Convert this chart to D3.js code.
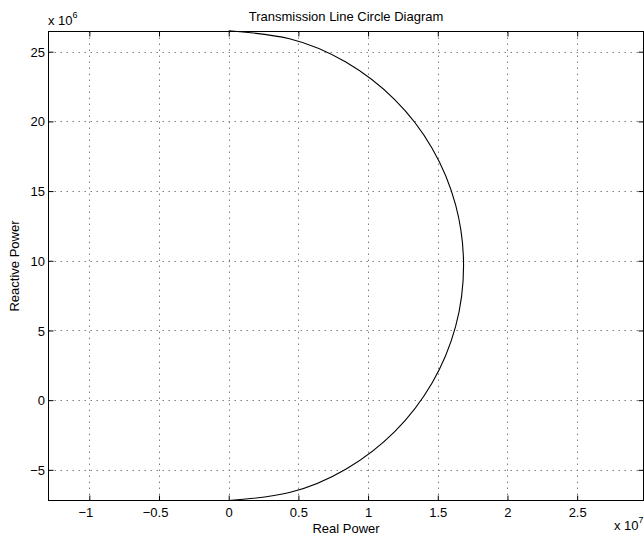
<!DOCTYPE html>
<html>
<head>
<meta charset="utf-8">
<script src="https://cdn.jsdelivr.net/npm/d3@7"></script>
<style>
  body { margin: 0; background: #fff; }
  svg { display: block; }
  text { font-family: "Liberation Sans", Arial, Helvetica, sans-serif; fill: #000; }
</style>
</head>
<body>
<div id="chart"></div>
<script>
// tick labels (x in units of 1e7, y in units of 1e6)
let xTicks = [-1, -0.5, 0, 0.5, 1, 1.5, 2, 2.5];
let yTicks = [-5, 0, 5, 10, 15, 20, 25];

// circle diagram points (W, var)
let realPower = [0, 4.36e6, 8.43e6, 11.91e6, 14.59e6, 16.28e6, 16.85e6,
                 16.28e6, 14.59e6, 11.91e6, 8.43e6, 4.36e6, 0];
let reactivePower = [-7.2e6, -6.63e6, -4.94e6, -2.26e6, 1.23e6, 5.29e6, 9.65e6,
                     14.01e6, 18.08e6, 21.56e6, 24.24e6, 25.93e6, 26.5e6];

let width = 644;
let height = 541;
let axLeft = 48.5, axRight = 643.5, axTop = 31.5, axBottom = 500.5;

let x = d3.scaleLinear().domain([-1.293e7, 2.976e7]).range([axLeft, axRight]);
let y = d3.scaleLinear().domain([-7.2e6, 26.45e6]).range([axBottom, axTop]);

let svg = d3.select("#chart")
    .append("svg")
    .attr("width", width)
    .attr("height", height);

let fmt = (v) => String(v).replace("-", "\u2212");

// dotted grid
let grid = svg.append("g")
    .attr("stroke", "#808080")
    .attr("stroke-width", 1)
    .attr("stroke-dasharray", "1.5,4.5");

grid.selectAll(".vg")
    .data(xTicks)
    .enter().append("line")
    .attr("x1", (d) => Math.round(x(d * 1e7)) + 0.5)
    .attr("x2", (d) => Math.round(x(d * 1e7)) + 0.5)
    .attr("y1", axTop)
    .attr("y2", axBottom);

grid.selectAll(".hg")
    .data(yTicks)
    .enter().append("line")
    .attr("y1", (d) => Math.round(y(d * 1e6)) + 0.5)
    .attr("y2", (d) => Math.round(y(d * 1e6)) + 0.5)
    .attr("x1", axLeft)
    .attr("x2", axRight);

// the curve
let pts = realPower.map((p, i) => [p, reactivePower[i]]);
let line = d3.line()
    .x((d) => x(d[0]))
    .y((d) => y(d[1]))
    .curve(d3.curveNatural);

svg.append("path")
    .datum(pts)
    .attr("d", line)
    .attr("fill", "none")
    .attr("stroke", "#000")
    .attr("stroke-width", 1.1);

// axes with inward ticks
let xVals = xTicks.map((d) => d * 1e7);
let yVals = yTicks.map((d) => d * 1e6);

let xAxis = svg.append("g")
    .attr("transform", "translate(0," + axBottom + ")")
    .call(d3.axisBottom(x).tickValues(xVals).tickSizeInner(-5).tickSizeOuter(0)
        .tickFormat((d) => fmt(d / 1e7)));
let xTop = svg.append("g")
    .attr("transform", "translate(0," + axTop + ")")
    .call(d3.axisTop(x).tickValues(xVals).tickSizeInner(-5).tickSizeOuter(0)
        .tickFormat(""));
let yAxis = svg.append("g")
    .attr("transform", "translate(" + axLeft + ",0)")
    .call(d3.axisLeft(y).tickValues(yVals).tickSizeInner(-5).tickSizeOuter(0)
        .tickFormat((d) => fmt(d / 1e6)));
let yRight = svg.append("g")
    .attr("transform", "translate(" + axRight + ",0)")
    .call(d3.axisRight(y).tickValues(yVals).tickSizeInner(-5).tickSizeOuter(0)
        .tickFormat(""));

[xAxis, xTop, yAxis, yRight].forEach(function (g) {
    g.select(".domain").remove();
    g.selectAll("line").attr("stroke", "#000").attr("stroke-width", 1);
    g.selectAll("text")
        .attr("fill", "#000")
        .style("font-size", "13px")
        .style("font-family", "'Liberation Sans', Arial, sans-serif");
});

xAxis.selectAll("text")
    .attr("y", 16.5)
    .attr("dy", null)
    .attr("dx", (d) => d < 0 ? -4 : 0);

yAxis.selectAll("text")
    .attr("x", -3.5)
    .attr("dy", "0.35em");

// box
svg.append("rect")
    .attr("x", axLeft)
    .attr("y", axTop)
    .attr("width", axRight - axLeft)
    .attr("height", axBottom - axTop)
    .attr("fill", "none")
    .attr("stroke", "#000")
    .attr("stroke-width", 1);

// title and labels
svg.append("text")
    .attr("x", 346)
    .attr("y", 20.5)
    .attr("text-anchor", "middle")
    .style("font-size", "13px")
    .text("Transmission Line Circle Diagram");

svg.append("text")
    .attr("x", 346)
    .attr("y", 533)
    .attr("text-anchor", "middle")
    .style("font-size", "13px")
    .text("Real Power");

svg.append("text")
    .attr("transform", "translate(19," + ((axTop + axBottom) / 2) + ") rotate(-90)")
    .attr("text-anchor", "middle")
    .style("font-size", "13px")
    .text("Reactive Power");

// exponent labels
let ex = svg.append("text")
    .attr("x", 614)
    .attr("y", 529.5)
    .style("font-size", "13px");
ex.append("tspan").text("x 10");
ex.append("tspan").attr("dy", -7).style("font-size", "9px").text("7");

let ey = svg.append("text")
    .attr("x", 48)
    .attr("y", 25)
    .style("font-size", "13px");
ey.append("tspan").text("x 10");
ey.append("tspan").attr("dy", -7).style("font-size", "9px").text("6");
</script>
</body>
</html>
